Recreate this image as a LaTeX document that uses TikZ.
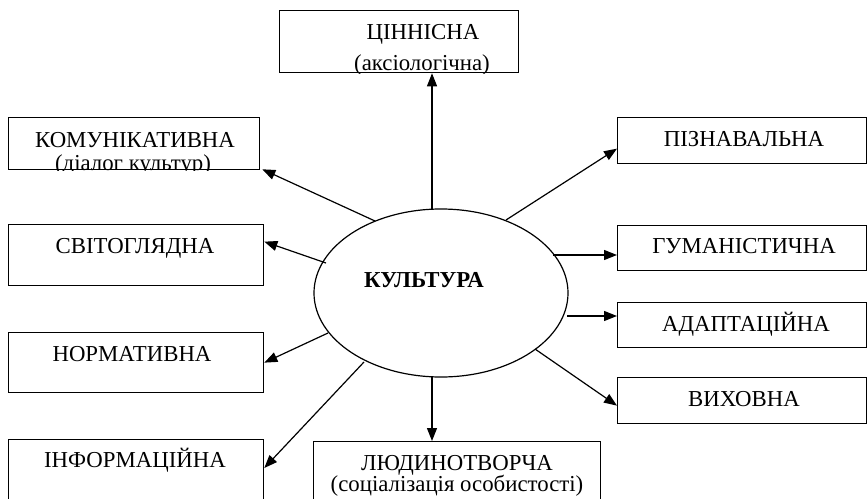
\documentclass[tikz,border=0pt]{standalone}
\usepackage{fontspec}
\setmainfont{Liberation Serif}
\usetikzlibrary{arrows.meta,shapes.geometric}
\begin{document}
\begin{tikzpicture}[x=1pt,y=-1pt,
  box/.style={draw, line width=1.3pt, inner sep=0pt, anchor=north west},
  lbl/.style={font=\fontsize{22.8}{27}\selectfont, inner sep=0pt, anchor=base},
  conn/.style={line width=1.2pt, -{Triangle[length=13pt,width=10pt]}}]
\useasboundingbox (0,0) rectangle (867,498);
\clip (0,0) rectangle (867,498);
% boxes
\node[box, minimum width=239pt, minimum height=62pt] (T) at (279,10) {};
\node[box, minimum width=251pt, minimum height=52pt] (K) at (8,117) {};
\node[box, minimum width=249pt, minimum height=46pt] (P) at (617,117) {};
\node[box, minimum width=255pt, minimum height=61pt] (S) at (8,224) {};
\node[box, minimum width=249pt, minimum height=45pt] (H) at (617,225) {};
\node[box, minimum width=255pt, minimum height=60pt] (N) at (8,332) {};
\node[box, minimum width=249pt, minimum height=45pt] (A) at (617,302) {};
\node[box, minimum width=249pt, minimum height=46pt] (V) at (617,377) {};
\node[box, minimum width=255pt, minimum height=75pt] (I) at (8,439) {};
\node[box, minimum width=287pt, minimum height=75pt] (L) at (313,441) {};
% ellipse
\node[draw, ellipse, line width=1.2pt, minimum width=254pt, minimum height=168pt, inner sep=0pt] (C) at (441,293) {};
\node[lbl, font=\fontsize{22.8}{27}\selectfont\bfseries] (Ct) at (424,287) {КУЛЬТУРА};
% texts
\begin{scope}
\clip (T.north west) rectangle (T.south east);
\node[lbl] (T1) at (423,39) {ЦІННІСНА};
\node[lbl] (T2) at (422,70) {(аксіологічна)};
\end{scope}
\begin{scope}
\clip (K.north west) rectangle (K.south east);
\node[lbl] (K1) at (135,147) {КОМУНІКАТИВНА};
\node[lbl] (K2) at (133,170) {(діалог культур)};
\end{scope}
\node[lbl] (Pt) at (744,146) {ПІЗНАВАЛЬНА};
\node[lbl] (St) at (135,253) {СВІТОГЛЯДНА};
\node[lbl] (Ht) at (744,253) {ГУМАНІСТИЧНА};
\node[lbl] (Nt) at (132,361) {НОРМАТИВНА};
\node[lbl] (At) at (746,331) {АДАПТАЦІЙНА};
\node[lbl] (Vt) at (744,406) {ВИХОВНА};
\node[lbl] (It) at (135,467) {ІНФОРМАЦІЙНА};
\node[lbl] (L1) at (457,470) {ЛЮДИНОТВОРЧА};
\node[lbl] (L2) at (457,491) {(соціалізація особистості)};
% connector start points on the ellipse
\coordinate (sT) at (432,209);
\coordinate (sK) at (375,221);
\coordinate (sP) at (506,220);
\coordinate (sS) at (326,263);
\coordinate (sN) at (328,333);
\coordinate (sI) at (364,362);
\coordinate (sH) at (553,255);
\coordinate (sA) at (567,316);
\coordinate (sV) at (535,349);
\coordinate (sL) at (432,377);
% connectors
\draw[conn] (sT) -- (sT |- T.south);
\draw[conn] (sK) -- ([shift={(2pt,1pt)}]K.south east);
\draw[conn] (sP) -- ([yshift=-8pt]P.west);
\draw[conn] (sS) -- ([yshift=13.5pt]S.east);
\draw[conn] (sN) -- (N.east);
\draw[conn] (sI) -- ([yshift=-29pt]I.north east);
\draw[conn] (sH) -- (sH -| H.west);
\draw[conn] (sA) -- (sA -| A.west);
\draw[conn] (sV) -- ([yshift=-5pt]V.west);
\draw[conn] (sL) -- (sL |- L.north);
\end{tikzpicture}
\end{document}
